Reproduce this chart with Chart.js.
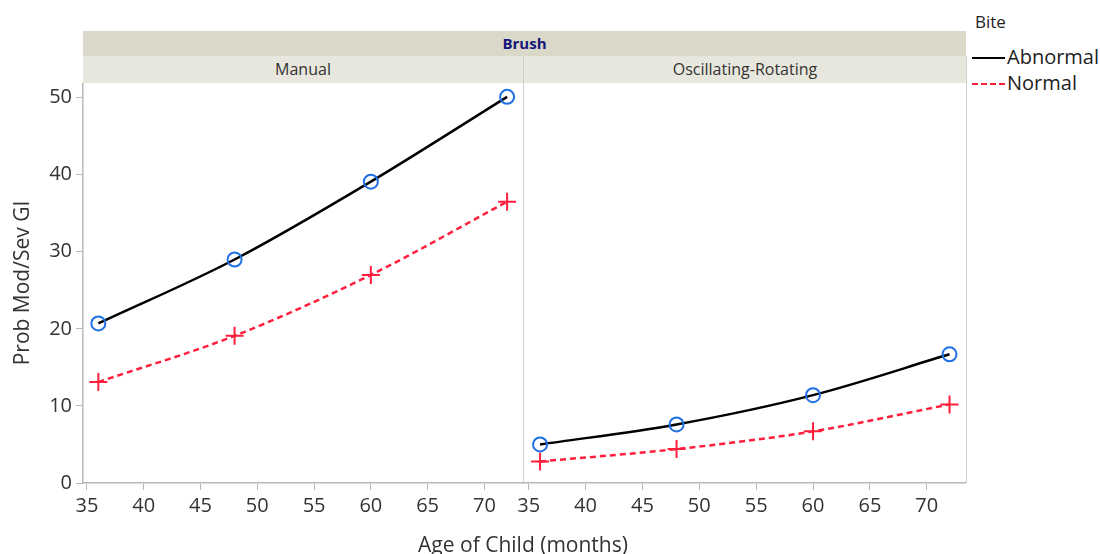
<!DOCTYPE html>
<html>
<head>
<meta charset="utf-8">
<script src="https://cdn.jsdelivr.net/npm/chart.js@4/dist/chart.umd.min.js"></script>
<style>
  body { margin: 0; background: #fff; font-family: "Open Sans", "Noto Sans", sans-serif; color: #333; }
  #wrap { position: relative; width: 1100px; height: 554px; overflow: hidden; }
  .abs { position: absolute; }
  canvas { position: absolute; }
  .strip1 { left: 83px; top: 31px; width: 883px; height: 25px; background: #d9d8c9; text-align: center;
            font-size: 15px; font-weight: bold; color: #15157a; line-height: 25px; }
  .strip2 { top: 56px; height: 27px; background: #e8e7de; text-align: center; font-size: 16px; line-height: 27px; color: #333; }
  .vline { width: 1px; background: #cfcfcf; }
  .leg { font-size: 20px; color: #222; }
</style>
</head>
<body>
<div id="wrap">
  <div class="abs strip1">Brush</div>
  <div class="abs strip2" id="p0" style="left:83px;width:440px"></div>
  <div class="abs strip2" id="p1" style="left:524px;width:442px"></div>
  <div class="abs vline" style="left:523px;top:56px;height:427px"></div>
  <div class="abs vline" style="left:966px;top:56px;height:427px"></div>
  <canvas id="c0" width="523" height="471" style="left:0;top:83px"></canvas>
  <canvas id="c1" width="463" height="471" style="left:503px;top:83px"></canvas>
  <div class="abs" id="xt" style="left:323px;width:400px;top:530px;text-align:center;font-size:21px;color:#333">Age of Child (months)</div>
  <div class="abs" style="left:975px;top:10px;font-size:17px;color:#222">Bite</div>
  <div class="abs" style="left:972px;top:57px;width:33px;border-top:2.5px solid #000"></div>
  <div class="abs leg" id="l0" style="left:1007px;top:43px"></div>
  <div class="abs" style="left:972px;top:83px;width:33px;border-top:2.5px dashed #ff1f3d"></div>
  <div class="abs leg" id="l1" style="left:1007px;top:69px"></div>
</div>
<script>
// data
const ages = [36, 48, 60, 72];
const manualAbnormal = [20.7, 29.0, 39.1, 50.1];
const manualNormal = [13.1, 19.1, 27.0, 36.5];
const oscAbnormal = [5.0, 7.6, 11.4, 16.7];
const oscNormal = [2.8, 4.4, 6.7, 10.2];
const panels = ["Manual", "Oscillating-Rotating"];
const biteLabels = ["Abnormal", "Normal"];

document.getElementById("p0").textContent = panels[0];
document.getElementById("p1").textContent = panels[1];
document.getElementById("l0").textContent = biteLabels[0];
document.getElementById("l1").textContent = biteLabels[1];

const axisGray = "#b8b8b8";
const blue = "#1f6fe5";
const red = "#ff1f3d";
const tickFont = { family: "'Open Sans', 'Noto Sans', sans-serif", size: 20 };
const titleFont = { family: "'Open Sans', 'Noto Sans', sans-serif", size: 21 };

const toPts = (vals) => ages.map((a, i) => ({ x: a, y: vals[i] }));

const makeChart = (id, abn, nor, showY, xMin, xMax) => {
  const datasets = [
    {
      label: biteLabels[0],
      data: toPts(abn),
      borderColor: "#000",
      borderWidth: 2.5,
      cubicInterpolationMode: "monotone",
      pointStyle: "circle",
      pointRadius: 7,
      pointBorderWidth: 2,
      pointBorderColor: blue,
      pointBackgroundColor: "rgba(0,0,0,0)"
    },
    {
      label: biteLabels[1],
      data: toPts(nor),
      borderColor: red,
      borderWidth: 2.5,
      borderDash: [6, 4],
      cubicInterpolationMode: "monotone",
      pointStyle: "cross",
      pointRadius: 9,
      pointBorderWidth: 2,
      pointBorderColor: red
    }
  ];
  const config = {
    type: "line",
    data: { datasets: datasets },
    options: {
      responsive: false,
      animation: false,
      clip: false,
      layout: { autoPadding: false, padding: { left: showY ? 0 : 20, right: 0, top: 0, bottom: 0 } },
      plugins: { legend: { display: false }, tooltip: { enabled: false } },
      scales: {
        x: {
          type: "linear",
          min: xMin,
          max: xMax,
          ticks: { stepSize: 5, includeBounds: false, color: "#333", font: tickFont, padding: 4 },
          grid: { drawOnChartArea: false, drawTicks: true, tickLength: 7, color: axisGray },
          border: { color: axisGray, width: 1.5 },
          afterFit: (s) => { s.height = 71; s.paddingLeft = 0; s.paddingRight = 0; }
        },
        y: {
          display: showY,
          min: 0,
          max: 51.9,
          ticks: { stepSize: 10, includeBounds: false, color: "#333", font: tickFont, padding: 4 },
          grid: { drawOnChartArea: false, drawTicks: true, tickLength: 7, color: axisGray },
          border: { color: axisGray, width: 1.5 },
          title: { display: true, text: "Prob Mod/Sev GI", color: "#333", font: titleFont, padding: { top: 10, bottom: 0 } },
          afterFit: (s) => {
            if (!showY) return;
            s.width = 83; s.paddingTop = 0; s.paddingBottom = 0;
          }
        }
      }
    }
  };
  return new Chart(document.getElementById(id), config);
};

makeChart("c0", manualAbnormal, manualNormal, true, 34.65, 73.4);
makeChart("c1", oscAbnormal, oscNormal, false, 34.5, 73.45);
</script>
</body>
</html>
